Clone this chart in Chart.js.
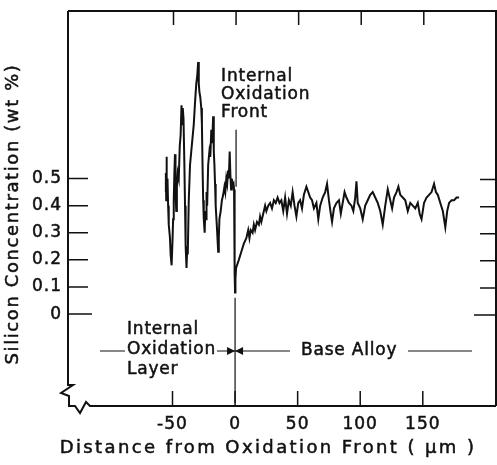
<!DOCTYPE html>
<html>
<head>
<meta charset="utf-8">
<script src="https://cdn.jsdelivr.net/npm/chart.js@4/dist/chart.umd.min.js"></script>
<style>
  html, body { margin: 0; padding: 0; background: #fff; }
  #wrap { width: 497px; height: 465px; }
</style>
</head>
<body>
<div id="wrap"><canvas id="chart"></canvas></div>
<script>
// distance from oxidation front (um) and silicon concentration (wt %)
const distance = [
  -55.5, -55.3, -55.0, -54.8, -54.5, -54.0, -53.5, -53.0, -52.0, -51.5, -50.7, -50.0, -49.5, -49.0,
  -48.5, -48.0, -47.6, -47.0, -46.5, -45.8, -45.0, -44.2, -43.5, -42.8, -42.3, -41.8, -41.2, -40.5,
  -40.0, -39.5, -38.8, -38.2, -37.8, -37.0, -36.0, -35.0, -34.0, -33.0, -32.0, -31.0, -30.2, -29.5,
  -29.0, -28.5, -27.8, -27.0, -26.5, -26.0, -25.5, -25.0, -24.3, -23.8, -23.2, -22.8, -22.3, -21.5,
  -20.5, -19.8, -19.0, -18.3, -17.5, -17.0, -16.5, -16.0, -15.5, -14.5, -13.5, -13.0, -12.5, -11.5,
  -10.5, -9.5, -8.5, -7.8, -7.0, -6.3, -5.5, -5.0, -4.3, -3.8, -3.2, -2.6, -2.0, -1.2, -0.8, -0.5,
  -0.2, 0.0, 0.3, 0.8,
  1, 3, 5, 7, 9, 10.5, 11.5, 12.5, 14, 15, 16, 17.5, 19, 20, 21, 22.5, 24, 25, 26.5, 28, 29.5, 31,
  32.5, 34, 35.5, 37, 38.5, 40, 41.5, 43, 44.5, 46, 47.5, 49, 50.5, 52, 53.5, 55, 57, 58.5, 60, 61.5,
  63, 65, 66.5, 68, 70, 72, 73.5, 75, 76.5, 77.5, 79, 81, 83, 84.5, 86, 87.5, 89, 91, 93, 94.5, 96,
  97, 98, 100, 102, 104, 106, 108, 110, 112, 114, 116, 118, 120, 122, 124, 125.5, 127, 129, 130.5,
  132, 134, 136, 138, 140, 142, 144, 146, 147.5, 149, 151, 153, 155, 157, 159, 160.5, 162, 164, 166,
  168, 169.5, 171, 173, 175, 177, 179
];
const silicon = [
  0.45, 0.52, 0.42, 0.58, 0.47, 0.50, 0.40, 0.33, 0.28, 0.22, 0.18, 0.27, 0.35, 0.42,
  0.52, 0.59, 0.45, 0.38, 0.47, 0.52, 0.50, 0.62, 0.66, 0.77, 0.70, 0.76, 0.72, 0.55,
  0.40, 0.25, 0.17, 0.25, 0.22, 0.42, 0.55, 0.60, 0.65, 0.70, 0.78, 0.85, 0.88, 0.93,
  0.85, 0.82, 0.80, 0.76, 0.70, 0.55, 0.42, 0.35, 0.30, 0.38, 0.35, 0.45, 0.40, 0.55,
  0.60, 0.58, 0.68, 0.63, 0.73, 0.60, 0.55, 0.48, 0.40, 0.32, 0.23, 0.28, 0.35, 0.38,
  0.42, 0.44, 0.47, 0.45, 0.50, 0.48, 0.53, 0.50, 0.60, 0.52, 0.46, 0.50, 0.47, 0.48, 0.46, 0.30,
  0.15, 0.08, 0.13, 0.17,
  0.17, 0.20, 0.23, 0.26, 0.28, 0.31, 0.28, 0.31, 0.30, 0.33, 0.31, 0.34, 0.33, 0.36, 0.34, 0.37, 0.40, 0.38, 0.40, 0.41, 0.39, 0.42,
  0.41, 0.43, 0.41, 0.42, 0.38, 0.43, 0.37, 0.42, 0.40, 0.45, 0.40, 0.36, 0.41, 0.42, 0.39, 0.44, 0.47, 0.45, 0.43, 0.42,
  0.39, 0.41, 0.35, 0.40, 0.43, 0.45, 0.48, 0.42, 0.37, 0.34, 0.39, 0.41, 0.42, 0.37, 0.41, 0.45, 0.43, 0.41, 0.40, 0.38, 0.43,
  0.49, 0.41, 0.39, 0.35, 0.40, 0.42, 0.44, 0.45, 0.43, 0.41, 0.38, 0.33, 0.40, 0.46, 0.42, 0.39, 0.43, 0.45, 0.47,
  0.44, 0.43, 0.42, 0.38, 0.41, 0.40, 0.39, 0.41, 0.37, 0.35, 0.41, 0.43, 0.44, 0.45, 0.48, 0.45, 0.44, 0.41, 0.38,
  0.32, 0.38, 0.41, 0.42, 0.42, 0.43, 0.43
];
const xTicks = [-50, 0, 50, 100, 150];
const yTicks = [0, 0.1, 0.2, 0.3, 0.4, 0.5];
const xTitle = 'Distance from Oxidation Front ( μm )';
const yTitle = 'Silicon Concentration (wt %)';

const FONT = 'DejaVu Sans';
const INK = '#111';

const points = distance.map((d, i) => ({ x: d, y: silicon[i] }));

// text with a light outline so it reads as heavy as the printed figure
function inkText(ctx, t, x, y) {
  ctx.fillText(t, x, y);
  ctx.strokeText(t, x, y);
}

// frame, inside ticks, axis break, axis titles and the region labels
const framePlugin = {
  id: 'frame',
  beforeDraw(chart) {
    chart.ctx.letterSpacing = '1px';
  },
  afterDraw(chart) {
    const ctx = chart.ctx;
    const a = chart.chartArea;
    const xs = chart.scales.x, ys = chart.scales.y;
    ctx.save();
    ctx.strokeStyle = INK;
    ctx.fillStyle = INK;
    ctx.lineWidth = 2;
    ctx.lineJoin = 'miter';

    // top + right
    ctx.beginPath();
    ctx.moveTo(a.left, a.top);
    ctx.lineTo(a.right, a.top);
    ctx.lineTo(a.right, a.bottom);
    ctx.stroke();

    // left with break
    ctx.beginPath();
    ctx.moveTo(a.left, a.top);
    ctx.lineTo(a.left, a.bottom - 21);
    ctx.lineTo(a.left + 5, a.bottom - 21);
    ctx.lineTo(a.left - 7, a.bottom - 13);
    ctx.lineTo(a.left + 1, a.bottom - 10);
    ctx.lineTo(a.left + 1, a.bottom);
    // bottom with break
    ctx.lineTo(a.left + 7, a.bottom);
    ctx.lineTo(a.left + 12, a.bottom + 7);
    ctx.lineTo(a.left + 18, a.bottom - 4);
    ctx.lineTo(a.left + 22, a.bottom);
    ctx.lineTo(a.right, a.bottom);
    ctx.stroke();

    // x ticks, top and bottom
    ctx.lineWidth = 1.5;
    xTicks.forEach(v => {
      const px = xs.getPixelForValue(v);
      ctx.beginPath();
      ctx.moveTo(px, a.bottom);
      ctx.lineTo(px, a.bottom - 15);
      ctx.moveTo(px + 1, a.top);
      ctx.lineTo(px + 1, a.top + 14);
      ctx.stroke();
    });
    // y ticks, left and right
    yTicks.forEach(v => {
      const py = ys.getPixelForValue(v);
      const len = v === 0 ? 24 : 20;
      ctx.beginPath();
      ctx.moveTo(a.left, py);
      ctx.lineTo(a.left + len, py);
      ctx.moveTo(a.right, py + 1);
      ctx.lineTo(a.right - (v === 0 ? 22 : 16), py + 1);
      ctx.stroke();
    });

    // oxidation front marker
    const x0 = xs.getPixelForValue(0);
    ctx.lineWidth = 1.2;
    ctx.beginPath();
    ctx.moveTo(x0 + 1, ys.getPixelForValue(0.68));
    ctx.lineTo(x0 + 1, ys.getPixelForValue(0.47));
    ctx.moveTo(x0, ys.getPixelForValue(0.06));
    ctx.lineTo(x0, a.bottom - 3);
    ctx.stroke();

    ctx.font = '17px "' + FONT + '"';
    ctx.textBaseline = 'middle';
    ctx.textAlign = 'left';
    ctx.letterSpacing = '0.8px';
    ctx.lineWidth = 0.5;
    const fx = x0 - 14;
    ['Internal', 'Oxidation', 'Front'].forEach((t, i) => inkText(ctx, t, fx, 77 + i * 18));

    const rowY = 351;
    ['Internal', 'Oxidation', 'Layer'].forEach((t, i) => inkText(ctx, t, 127, 330 + i * 20));
    inkText(ctx, 'Base Alloy', 301, rowY);

    ctx.lineWidth = 1.2;
    ctx.beginPath();
    ctx.moveTo(100, rowY); ctx.lineTo(125, rowY);
    ctx.moveTo(217, rowY); ctx.lineTo(x0, rowY);
    ctx.moveTo(x0, rowY); ctx.lineTo(290, rowY);
    ctx.moveTo(408, rowY); ctx.lineTo(472, rowY);
    ctx.stroke();
    // arrow heads meeting at the front
    ctx.beginPath();
    ctx.moveTo(x0, rowY); ctx.lineTo(x0 - 8, rowY - 4); ctx.lineTo(x0 - 8, rowY + 4); ctx.closePath();
    ctx.moveTo(x0, rowY); ctx.lineTo(x0 + 8, rowY - 4); ctx.lineTo(x0 + 8, rowY + 4); ctx.closePath();
    ctx.fill();

    // axis titles
    ctx.lineWidth = 0.5;
    ctx.textAlign = 'center';
    ctx.font = '18px "' + FONT + '"';
    ctx.letterSpacing = '2.4px';
    inkText(ctx, xTitle, 268, 448);
    ctx.save();
    ctx.translate(13, 214);
    ctx.rotate(-Math.PI / 2);
    ctx.letterSpacing = '1.6px';
    inkText(ctx, yTitle, 0, 0);
    ctx.restore();
    ctx.restore();
  }
};

const tickFont = { family: FONT, size: 17 };

new Chart(document.getElementById('chart'), {
  type: 'scatter',
  data: {
    datasets: [{
      data: points,
      showLine: true,
      borderColor: INK,
      borderWidth: 2,
      pointRadius: 0,
      tension: 0
    }]
  },
  options: {
    responsive: true,
    maintainAspectRatio: false,
    animation: false,
    layout: { padding: { top: 11, right: 1, left: 0, bottom: 0 } },
    plugins: { legend: { display: false }, tooltip: { enabled: false } },
    scales: {
      x: {
        type: 'linear',
        min: -133.5,
        max: 208.5,
        afterBuildTicks: s => { s.ticks = xTicks.map(v => ({ value: v })); },
        afterFit: s => { s.height = 59; },
        grid: { display: false },
        border: { display: false },
        ticks: {
          color: INK, font: tickFont, padding: 0, maxRotation: 0,
          textStrokeColor: INK, textStrokeWidth: 0.5
        }
      },
      y: {
        min: -0.339,
        max: 1.118,
        afterBuildTicks: s => { s.ticks = yTicks.map(v => ({ value: v })); },
        afterFit: s => { s.width = 68; },
        grid: { display: false },
        border: { display: false },
        ticks: {
          color: INK, font: tickFont, padding: -2,
          textStrokeColor: INK, textStrokeWidth: 0.5,
          callback: v => (v === 0 ? '0' : v.toFixed(1))
        }
      }
    }
  },
  plugins: [framePlugin]
});
</script>
</body>
</html>
